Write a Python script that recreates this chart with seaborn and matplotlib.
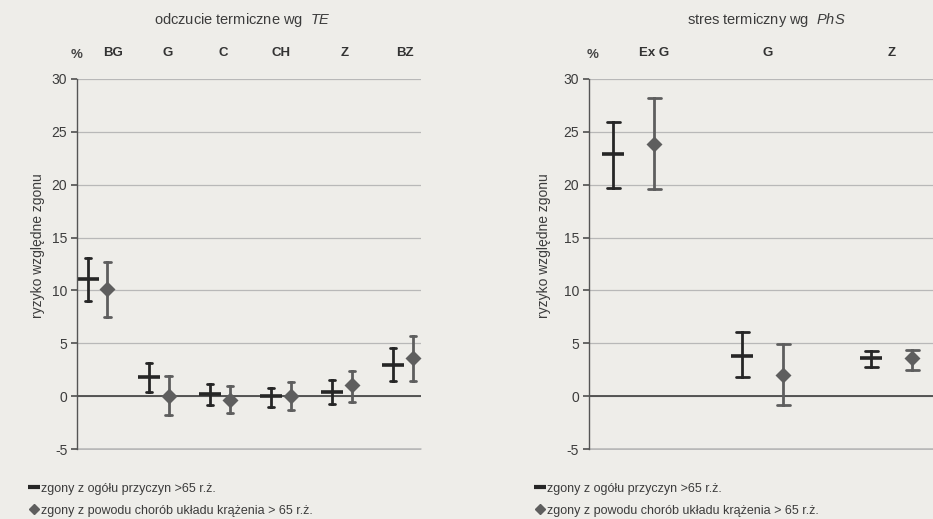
import numpy as np
import pandas as pd
import seaborn as sns
import matplotlib
matplotlib.use("Agg")
import matplotlib.pyplot as plt
from matplotlib.lines import Line2D

# ---- data ----
te_categories = ["BG", "G", "C", "CH", "Z", "BZ"]
te_all_center = [11.1, 1.8, 0.2, 0.0, 0.4, 3.0]
te_all_low    = [9.05, 0.4, -0.8, -1.0, -0.75, 1.45]
te_all_high   = [13.1, 3.1, 1.2, 0.8, 1.5, 4.6]
te_circ_center = [10.1, 0.0, -0.4, 0.0, 1.1, 3.6]
te_circ_low    = [7.5, -1.8, -1.6, -1.3, -0.5, 1.45]
te_circ_high   = [12.7, 1.9, 1.0, 1.3, 2.4, 5.7]

phs_categories = ["Ex G", "G", "Z"]
phs_all_center = [22.9, 3.8, 3.6]
phs_all_low    = [19.7, 1.8, 2.8]
phs_all_high   = [25.9, 6.1, 4.25]
phs_circ_center = [23.8, 2.0, 3.6]
phs_circ_low    = [19.6, -0.85, 2.45]
phs_circ_high   = [28.2, 4.9, 4.4]

series_names = ["zgony z ogółu przyczyn >65 r.ż.",
                "zgony z powodu chorób układu krążenia > 65 r.ż."]
yticks = [-5, 0, 5, 10, 15, 20, 25, 30]


def long_frame(cats, series):
    rows = []
    for name, (lo, c, hi) in zip(series_names, series):
        for cat, a, b, d in zip(cats, lo, c, hi):
            for v in (a, b, d):
                rows.append({"cat": cat, "series": name, "val": v})
    return pd.DataFrame(rows)


df_te = long_frame(te_categories, [(te_all_low, te_all_center, te_all_high),
                                   (te_circ_low, te_circ_center, te_circ_high)])
df_phs = long_frame(phs_categories, [(phs_all_low, phs_all_center, phs_all_high),
                                     (phs_circ_low, phs_circ_center, phs_circ_high)])

BG = "#eeede9"
C_BLACK = "#262626"
C_GRAY = "#5e5e5e"
TXT = "#3c3c3c"
GRID = "#b8b8b8"

sns.set_theme(style="white")
plt.rcParams["font.family"] = ["Liberation Sans", "DejaVu Sans"]
plt.rcParams["mathtext.fontset"] = "custom"
plt.rcParams["mathtext.it"] = "Liberation Sans:italic"
plt.rcParams["mathtext.rm"] = "Liberation Sans"

fig = plt.figure(figsize=(9.33, 5.19), dpi=100, facecolor=BG)
axL = fig.add_axes([0.0825, 0.133, 0.369, 0.715], facecolor=BG)
axR = fig.add_axes([0.631, 0.133, 0.369, 0.715], facecolor=BG)


def draw(ax, df, cats, xlim, label_shift, title, title_x, pct_x, ylab_x):
    sns.pointplot(data=df, x="cat", y="val", hue="series", order=cats,
                  hue_order=series_names, estimator="median",
                  errorbar=("pi", 100), dodge=0.32, linestyle="none",
                  markers=["_", "D"], markersize=7, capsize=0.1,
                  err_kws={"linewidth": 2.0},
                  palette=[C_BLACK, C_GRAY], legend=False, ax=ax)
    for ln in ax.lines:
        if ln.get_marker() == "_":
            ln.set_markersize(16)
            ln.set_markeredgewidth(2.6)
        elif ln.get_marker() == "D":
            ln.set_markersize(6.5)
    ax.set_ylim(-5.08, 30)
    ax.set_xlim(*xlim)
    ax.set_yticks(yticks)
    ax.set_yticklabels([str(t) for t in yticks], color=TXT, fontsize=10)
    ax.yaxis.grid(True, color=GRID, linewidth=0.9)
    ax.set_axisbelow(True)
    ax.axhline(yticks[0], color=GRID, linewidth=1.1, clip_on=False, zorder=0.5)
    ax.axhline(0, color="#4a4a4a", linewidth=1.3, zorder=1)
    for s in ["top", "right", "bottom"]:
        ax.spines[s].set_visible(False)
    ax.spines["left"].set_color("#555555")
    ax.spines["left"].set_linewidth(1.0)
    ax.spines["left"].set_bounds(-5, 30)
    ax.tick_params(axis="y", left=True, length=4, color="#555555", pad=3)
    ax.xaxis.tick_top()
    ax.tick_params(axis="x", top=False, bottom=False, length=0, pad=14)
    ax.set_xticks([i + s for i, s in enumerate(label_shift)])
    ax.set_xticklabels(cats, fontweight="bold", color="#333333", fontsize=9.5)
    ax.set_xlabel("")
    ax.set_ylabel("ryzyko względne zgonu", color=TXT, fontsize=10)
    ax.yaxis.set_label_coords(ylab_x, 0.55)
    ax.text(pct_x, 1.065, "%", transform=ax.transAxes, ha="center",
            va="center", fontsize=9.5, color="#444444", fontweight="bold")
    ax.text(title_x, 1.158, title, transform=ax.transAxes, ha="center",
            va="center", fontsize=10.5, color=TXT)


draw(axL, df_te, te_categories, (-0.34, 5.3), [0.25, 0.15, 0.05, 0.0, 0.05, 0.03],
     "odczucie termiczne wg  $\\it{TE}$", 0.48, 0.0, -0.093)
draw(axR, df_phs, phs_categories, (-0.35, 2.32), [0.16, 0.04, 0.0],
     "stres termiczny wg  $\\it{PhS}$", 0.517, 0.01, -0.111)

handles = [Line2D([], [], color=C_BLACK, marker="_", linestyle="none",
                  markersize=9, markeredgewidth=3),
           Line2D([], [], color=C_GRAY, marker="D", linestyle="none",
                  markersize=5)]
for x0 in (0.025, 0.567):
    fig.legend(handles, series_names, loc="upper left",
               bbox_to_anchor=(x0, 0.082), frameon=False, fontsize=9,
               handlelength=0.7, handletextpad=0.2, labelspacing=0.8,
               borderpad=0, labelcolor=TXT)

fig.savefig("out.png", dpi=100, facecolor=BG)
